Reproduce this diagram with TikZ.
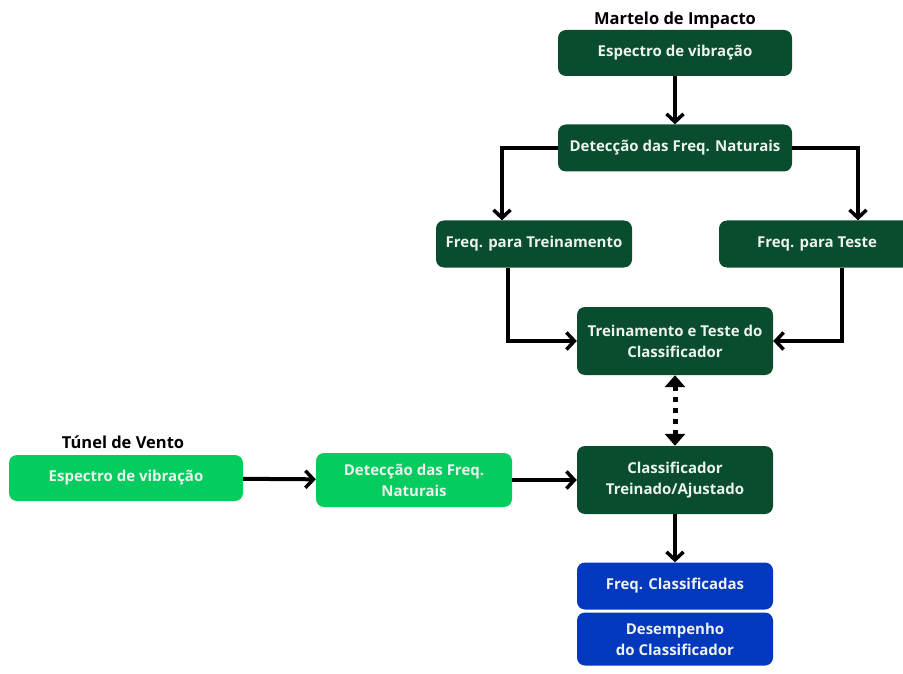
\documentclass[tikz,border=0pt]{standalone}
\usepackage{fontspec}
\setmainfont{Open Sans}
\usepackage{tikz}
\usetikzlibrary{arrows.meta, positioning, calc}
\definecolor{darkgreen}{RGB}{10, 77, 46}
\definecolor{lightgreen}{RGB}{4, 204, 94}
\definecolor{deepblue}{RGB}{2, 56, 190}
\definecolor{boxtext}{RGB}{236, 242, 238}

\begin{document}
\begin{tikzpicture}[x=1pt, y=-1pt,
  box/.style={rectangle, rounded corners=8pt, fill=darkgreen, text=boxtext,
              font=\fontsize{15}{21}\selectfont\bfseries, align=center,
              inner sep=0pt},
  oneline/.style={text height=10.5pt, text depth=3.5pt},
  lbox/.style={box, fill=lightgreen},
  bbox/.style={box, fill=deepblue},
  tag/.style={font=\fontsize{16.5}{20}\selectfont\bfseries, text=black},
  arr/.style={-{Straight Barb[length=8pt, width=17pt, line width=3.5pt]},
              line width=4pt},
  darr/.style={{Triangle[length=12pt, width=20pt]}-{Triangle[length=12pt, width=20pt]},
               line width=5pt, dash pattern=on 5pt off 6pt}]

\useasboundingbox (0,0) rectangle (903,674);

% Martelo de Impacto branch
\node[tag] (martelo) at (675,20) {Martelo de Impacto};
\node[box, oneline, minimum width=234pt, minimum height=46pt] (espectro) at (675,53)
      {Espectro de vibração};
\node[box, oneline, minimum width=234pt, minimum height=47pt] (deteccao) at (675,148)
      {Detecção das Freq. Naturais};
\node[box, oneline, minimum width=196pt, minimum height=47pt] (treino) at (534,244)
      {Freq. para Treinamento};
\node[box, oneline, minimum width=196pt, minimum height=47pt] (teste) at (817,244)
      {Freq. para Teste};
\node[box, minimum width=196pt, minimum height=68pt] (treinoteste) at (675,341)
      {Treinamento e Teste do\\Classificador};

% Classifier and outputs
\node[box, minimum width=196pt, minimum height=68pt] (classif) at (675,480)
      {Classificador\\Treinado/Ajustado};
\node[bbox, oneline, minimum width=196pt, minimum height=47pt] (classificadas) at (675,586)
      {Freq. Classificadas};
\node[bbox, minimum width=196pt, minimum height=53pt] (desempenho) at (675,639)
      {Desempenho\\do Classificador};

% Tunel de Vento branch
\node[tag] (tunel) at (123,442) {Túnel de Vento};
\node[lbox, oneline, minimum width=234pt, minimum height=46pt] (espectrotv) at (126,478)
      {Espectro de vibração};
\node[lbox, minimum width=196pt, minimum height=54pt] (deteccaotv) at (414,480)
      {Detecção das Freq.\\Naturais};

% Arrows
\draw[arr] (espectro) -- (deteccao);
\draw[arr] (deteccao.west) -| ([xshift=-32pt]treino.north);
\draw[arr] (deteccao.east) -| ([xshift=41pt]teste.north);
\draw[arr] ([xshift=-26pt]treino.south) |- (treinoteste.west);
\draw[arr] ([xshift=25pt]teste.south) |- (treinoteste.east);
\draw[darr] (treinoteste) -- (classif);
\draw[arr] (espectrotv) -- (deteccaotv);
\draw[arr] (deteccaotv) -- (classif);
\draw[arr] (classif) -- (classificadas);

\end{tikzpicture}
\end{document}
